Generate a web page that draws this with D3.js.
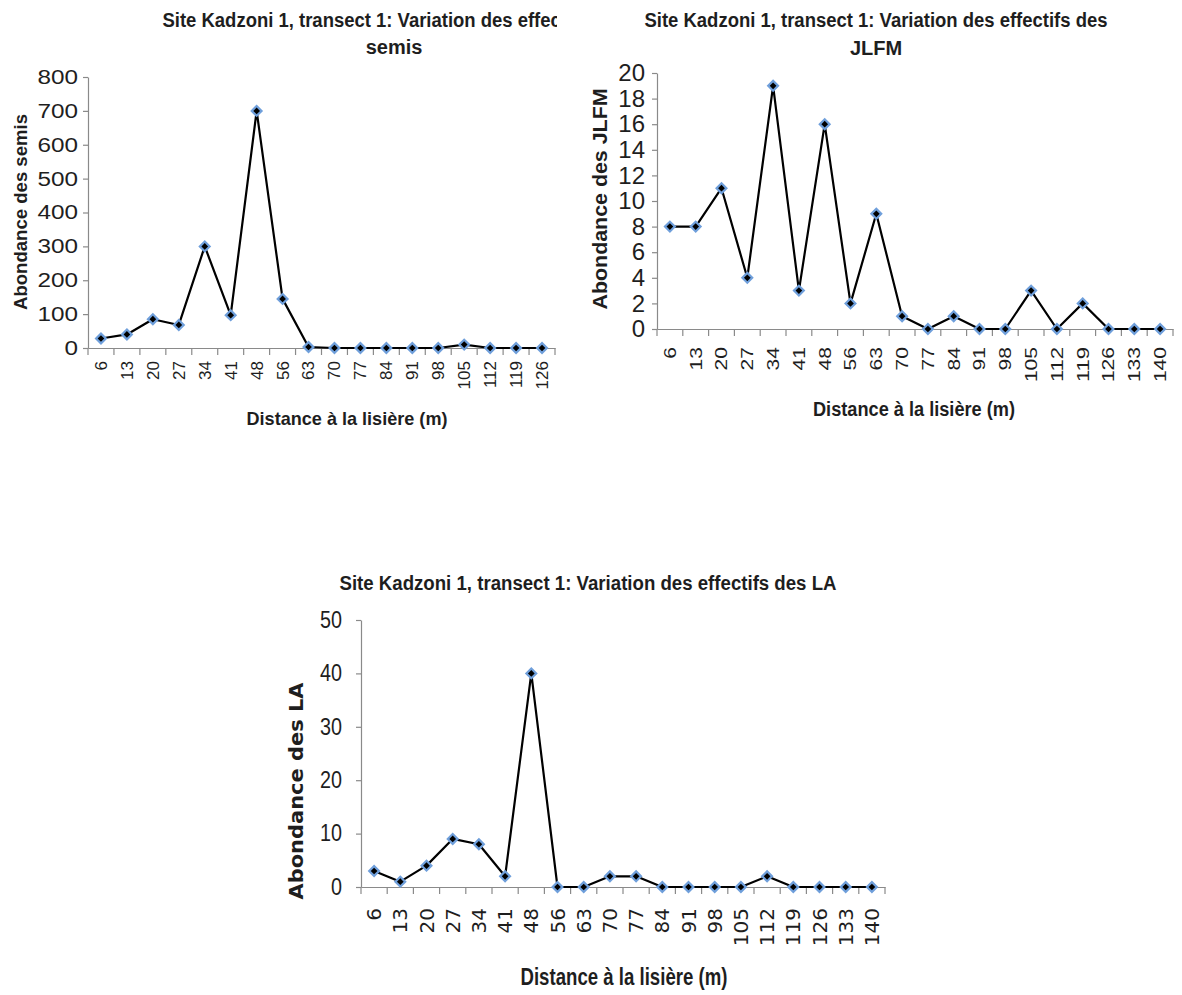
<!DOCTYPE html>
<html>
<head>
<meta charset="utf-8">
<script src="https://cdn.jsdelivr.net/npm/d3@7"></script>
<style>
  body { margin: 0; background: #fff; }
</style>
</head>
<body>
<svg width="1182" height="995"></svg>
<script>
// distances along the transect (m)
const distSemis = [6, 13, 20, 27, 34, 41, 48, 56, 63, 70, 77, 84, 91, 98, 105, 112, 119, 126];
const distJlfm = [6, 13, 20, 27, 34, 41, 48, 56, 63, 70, 77, 84, 91, 98, 105, 112, 119, 126, 133, 140];
const distLa = [6, 13, 20, 27, 34, 41, 48, 56, 63, 70, 77, 84, 91, 98, 105, 112, 119, 126, 133, 140];

// abundances
const semis = [28, 40, 85, 68, 300, 97, 700, 145, 3, 0, 0, 0, 0, 0, 10, 0, 0, 0];
const jlfm = [8, 8, 11, 4, 19, 3, 16, 2, 9, 1, 0, 1, 0, 0, 3, 0, 2, 0, 0, 0];
const la = [3, 1, 4, 9, 8, 2, 40, 0, 0, 2, 2, 0, 0, 0, 0, 2, 0, 0, 0, 0];

// y tick labels
const semisTicks = [0, 100, 200, 300, 400, 500, 600, 700, 800];
const jlfmTicks = [0, 2, 4, 6, 8, 10, 12, 14, 16, 18, 20];
const laTicks = [0, 10, 20, 30, 40, 50];

const titleStart = "Site Kadzoni 1, transect 1: Variation des effectifs des";
const xTitle = "Distance à la lisière (m)";

const axisColor = "#8a8a8a";
const textColor = "#1e1e1e";
const sans = '"Liberation Sans", Arial, sans-serif';
const wide = '"DejaVu Sans", Verdana, sans-serif';

const svg = d3.select("svg");

// the first chart is cut on its right side
svg.append("defs").append("clipPath").attr("id", "cut")
    .append("rect").attr("x", 0).attr("y", 0).attr("width", 557).attr("height", 440);

const panels = [
    {
        cats: distSemis, values: semis, ticks: semisTicks, clip: "cut",
        left: 88, right: 555, top: 77, bottom: 348,
        title: [titleStart, "semis"], titleX: 394, titleY: [20, 47], titleLen: 463,
        yLabel: "Abondance des semis", yLabelX: 20, yLabelY: 212, yLabelLen: 196,
        yLabelFont: sans, yLabelSize: 19,
        xLabelX: 347, xLabelY: 418, xLabelLen: 201, xLabelSize: 19,
        yTickSize: 20, yTickFont: sans, yPad: 5, yDigit: 13.5,
        xTickSize: 17, xTickFont: sans, xPad: 13, xDigit: null,
    },
    {
        cats: distJlfm, values: jlfm, ticks: jlfmTicks,
        left: 657, right: 1173, top: 73, bottom: 329,
        title: [titleStart, "JLFM"], titleX: 876, titleY: [20, 48], titleLen: 463,
        yLabel: "Abondance des JLFM", yLabelX: 600, yLabelY: 199, yLabelLen: 221,
        yLabelFont: sans, yLabelSize: 20,
        xLabelX: 914, xLabelY: 409, xLabelLen: 202, xLabelSize: 20,
        yTickSize: 24, yTickFont: sans, yPad: 7, yDigit: null,
        xTickSize: 17, xTickFont: sans, xPad: 18, xDigit: 11.7,
    },
    {
        cats: distLa, values: la, ticks: laTicks,
        left: 361, right: 885, top: 620, bottom: 887,
        title: [titleStart + " LA"], titleX: 588, titleY: [583], titleLen: 497,
        yLabel: "Abondance des LA", yLabelX: 296, yLabelY: 791, yLabelLen: 217,
        yLabelFont: wide, yLabelSize: 20,
        xLabelX: 624, xLabelY: 976, xLabelLen: 207, xLabelSize: 24,
        yTickSize: 23, yTickFont: sans, yPad: 14, yDigit: 11,
        xTickSize: 20, xTickFont: wide, xPad: 21, xDigit: null,
    },
];

const drawPanel = (p) => {
    const g = svg.append("g");
    if (p.clip) g.attr("clip-path", `url(#${p.clip})`);

    const x = d3.scaleBand().domain(p.cats.map(String)).range([p.left, p.right]);
    const y = d3.scaleLinear().domain([0, d3.max(p.ticks)]).range([p.bottom, p.top]);
    const cx = (i) => x(String(p.cats[i])) + x.bandwidth() / 2;

    // y axis
    const yTexts = g.append("g")
        .attr("transform", `translate(${p.left},0)`)
        .call(d3.axisLeft(y).tickValues(p.ticks).tickSize(5).tickSizeOuter(0).tickPadding(p.yPad))
        .call((a) => a.select(".domain").attr("stroke", axisColor).attr("stroke-width", 1.2))
        .call((a) => a.selectAll(".tick line").attr("stroke", axisColor).attr("stroke-width", 1.2))
        .selectAll(".tick text")
        .attr("font-family", p.yTickFont)
        .attr("font-size", p.yTickSize)
        .attr("fill", textColor);
    if (p.yDigit) {
        yTexts.attr("textLength", (d) => String(d).length * p.yDigit)
            .attr("lengthAdjust", "spacingAndGlyphs");
    }

    // x axis: line and rotated labels
    const xTexts = g.append("g")
        .attr("transform", `translate(0,${p.bottom})`)
        .call(d3.axisBottom(x).tickSize(0).tickSizeOuter(0).tickPadding(0))
        .call((a) => a.select(".domain").attr("stroke", axisColor).attr("stroke-width", 1.2))
        .selectAll(".tick text")
        .attr("transform", "rotate(-90)")
        .attr("text-anchor", "end")
        .attr("x", -p.xPad)
        .attr("y", 0)
        .attr("dy", "0.35em")
        .attr("font-family", p.xTickFont)
        .attr("font-size", p.xTickSize)
        .attr("fill", textColor);
    if (p.xDigit) {
        xTexts.attr("textLength", (d) => d.length * p.xDigit)
            .attr("lengthAdjust", "spacingAndGlyphs");
    }

    // category boundary ticks
    g.append("g")
        .selectAll("line")
        .data(x.domain().map((d) => x(d)).concat([p.right]))
        .join("line")
        .attr("x1", (d) => d)
        .attr("x2", (d) => d)
        .attr("y1", p.bottom)
        .attr("y2", p.bottom + 7)
        .attr("stroke", axisColor)
        .attr("stroke-width", 1.2);

    // series line
    g.append("path")
        .datum(p.values)
        .attr("fill", "none")
        .attr("stroke", "#000")
        .attr("stroke-width", 2.2)
        .attr("stroke-linejoin", "round")
        .attr("d", d3.line().x((d, i) => cx(i)).y((d) => y(d)));

    // diamond markers
    g.append("g")
        .selectAll("path")
        .data(p.values)
        .join("path")
        .attr("transform", (d, i) => `translate(${cx(i)},${y(d)}) rotate(45)`)
        .attr("d", d3.symbol(d3.symbolSquare, 48))
        .attr("fill", "#000")
        .attr("stroke", "#6f9fdb")
        .attr("stroke-width", 2.2);

    // title
    p.title.forEach((t, i) => {
        const tt = g.append("text")
            .attr("x", p.titleX)
            .attr("y", p.titleY[i])
            .attr("text-anchor", "middle")
            .attr("dominant-baseline", "central")
            .attr("font-family", sans)
            .attr("font-weight", "bold")
            .attr("font-size", 20)
            .attr("fill", textColor)
            .text(t);
        if (i === 0) tt.attr("textLength", p.titleLen).attr("lengthAdjust", "spacingAndGlyphs");
    });

    // y axis title
    g.append("text")
        .attr("transform", `translate(${p.yLabelX},${p.yLabelY}) rotate(-90)`)
        .attr("text-anchor", "middle")
        .attr("dominant-baseline", "central")
        .attr("font-family", p.yLabelFont)
        .attr("font-weight", "bold")
        .attr("font-size", p.yLabelSize)
        .attr("fill", textColor)
        .attr("textLength", p.yLabelLen)
        .attr("lengthAdjust", "spacingAndGlyphs")
        .text(p.yLabel);

    // x axis title
    g.append("text")
        .attr("x", p.xLabelX)
        .attr("y", p.xLabelY)
        .attr("text-anchor", "middle")
        .attr("dominant-baseline", "central")
        .attr("font-family", sans)
        .attr("font-weight", "bold")
        .attr("font-size", p.xLabelSize)
        .attr("fill", textColor)
        .attr("textLength", p.xLabelLen)
        .attr("lengthAdjust", "spacingAndGlyphs")
        .text(xTitle);
};

panels.forEach(drawPanel);
</script>
</body>
</html>
